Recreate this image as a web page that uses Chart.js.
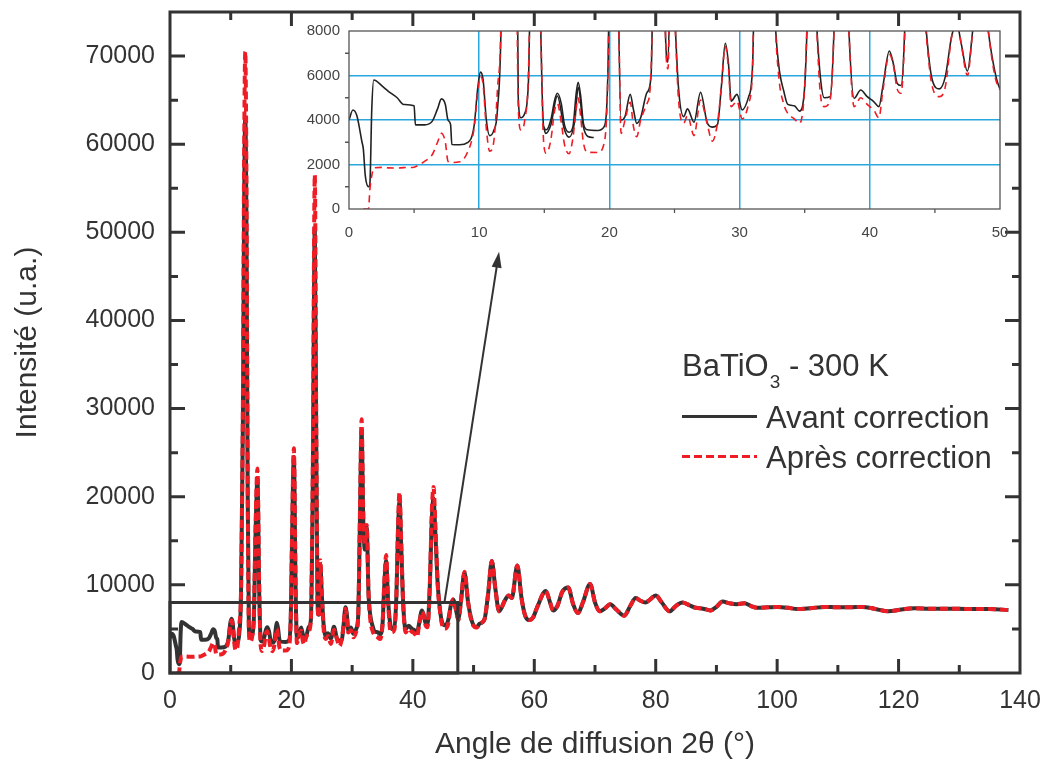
<!DOCTYPE html>
<html>
<head>
<meta charset="utf-8">
<script src="https://cdn.jsdelivr.net/npm/chart.js@4.4.0/dist/chart.umd.min.js"></script>
<style>
  body { margin: 0; background: #fff; }
  #wrap { position: relative; width: 1042px; height: 767px; }
  #mainChart { position: absolute; left: 0; top: 0; }
  #insetChart { position: absolute; left: 280px; top: 15px; }
</style>
</head>
<body>
<div id="wrap">
  <canvas id="mainChart" width="1042" height="767"></canvas>
  <canvas id="insetChart" width="740" height="240"></canvas>
</div>
<script>
// angle de diffusion 2theta (deg)
const angles = [
  0.0, 0.3, 0.6, 1.0, 1.1, 1.25, 1.5, 1.6, 1.75, 1.9,
  2.6, 3.0, 3.7, 4.2, 5.0, 5.1, 5.8, 6.4, 6.8, 7.1,
  7.4, 7.6, 7.8, 7.9, 8.5, 9.1, 9.6, 9.9, 10.1, 10.3,
  10.55, 10.8, 11.1, 11.4, 11.7, 12.0, 12.2, 12.4, 12.6, 12.8,
  13.0, 13.2, 13.5, 13.8, 14.1, 14.4, 14.7, 14.95, 15.15, 15.5,
  15.8, 16.0, 16.3, 16.55, 16.9, 17.2, 17.45, 17.6, 17.8, 18.0,
  18.3, 19.1, 19.6, 19.9, 20.1, 20.4, 20.7, 20.9, 21.2, 21.6,
  21.85, 22.1, 22.4, 22.9, 23.2, 23.5, 23.85, 24.1, 24.3, 24.5,
  24.75, 25.0, 25.3, 25.7, 26.0, 26.5, 27.0, 27.5, 27.9, 28.3,
  28.6, 28.9, 29.15, 29.35, 29.8, 30.2, 30.7, 31.0, 31.3, 31.55,
  31.85, 32.1, 32.4, 32.7, 33.0, 33.4, 33.7, 34.2, 34.6, 35.0,
  35.3, 35.6, 35.9, 36.2, 36.5, 36.95, 37.3, 37.55, 37.8, 38.1,
  38.4, 38.8, 39.3, 39.8, 40.3, 40.7, 41.0, 41.5, 41.8, 42.1,
  42.4, 42.8, 43.1, 43.4, 43.7, 44.1, 44.5, 44.8, 45.35, 45.8,
  46.3, 46.7, 47.0, 47.5, 47.9, 48.5, 49.1, 49.6, 50.0, 50.5,
  51.0, 51.8, 52.4, 53.0, 53.6, 54.2, 55.2, 55.8, 56.3, 57.2,
  57.9, 58.5, 59.1, 59.8, 60.5, 61.9, 62.6, 63.1, 63.8, 64.6,
  65.6, 66.4, 67.2, 68.0, 69.2, 70.0, 70.8, 71.6, 72.5, 73.5,
  74.8, 75.8, 76.7, 77.5, 78.3, 79.0, 80.0, 81.0, 82.3, 83.3,
  84.4, 85.5, 86.6, 87.8, 89.0, 90.0, 91.0, 92.2, 93.3, 94.6,
  95.7, 96.7, 98.5, 100, 101.8, 103.3, 105.5, 107.9, 110, 112,
  114, 116, 118.3, 120.5, 122.6, 125, 127.5, 129.9, 132, 135,
  138.1
];

// Avant correction
const avant = [
  4000, 4450, 4200, 3000, 2700, 1500, 1000, 1100, 4500, 5800,
  5500, 5300, 5000, 4700, 4640, 3780, 3780, 3950, 4500, 4950,
  4700, 4000, 3800, 2900, 2890, 2980, 3700, 5500, 6150, 5800,
  4000, 3300, 3500, 4450, 9000, 28000, 52000, 63000, 50000, 20000,
  5000, 4100, 4300, 6000, 16000, 22000, 9000, 3700, 3560, 4000,
  4900, 5200, 4750, 3780, 3450, 3700, 5200, 5700, 5050, 3860,
  3560, 3530, 3700, 6500, 15000, 24500, 9000, 4000, 4160, 5150,
  4460, 3850, 4100, 5250, 6000, 20000, 50500, 25000, 8000, 6600,
  12300, 9000, 5500, 4150, 4500, 3900, 5250, 3900, 3680, 3800,
  5500, 7450, 6500, 4850, 5150, 4450, 5050, 6500, 18000, 27500,
  17000, 14000, 16500, 9000, 6500, 5280, 4700, 4640, 4400, 5500,
  10000, 12700, 8500, 5950, 5000, 5050, 9000, 16000, 19500, 14000,
  8000, 4980, 5350, 5050, 4830, 4600, 5500, 7100, 6550, 5650,
  5550, 10000, 17000, 19800, 16000, 10000, 7000, 5800, 5400, 5950,
  7800, 8300, 7500, 6200, 8000, 11400, 8000, 6200, 5400, 5200,
  5600, 6100, 9000, 12700, 9500, 7000, 8300, 8800, 8500, 12200,
  8500, 6500, 6000, 6300, 7500, 9300, 8000, 7100, 7600, 9200,
  9700, 7800, 6800, 8000, 10100, 8000, 7000, 7300, 7800, 7200,
  6500, 7600, 8500, 8200, 8000, 8300, 8800, 8000, 7000, 7600,
  8000, 7700, 7400, 7300, 7100, 7500, 8100, 7900, 7800, 7900,
  7600, 7400, 7450, 7500, 7400, 7250, 7350, 7500, 7450, 7450,
  7500, 7300, 7000, 7200, 7350, 7300, 7300, 7300, 7250, 7250,
  7150
];

// Après correction
const apres = [
  null, null, null, null, 0, 0, 0, 850, 1500, 1850,
  1870, 1850, 1840, 1860, 1880, 1900, 2140, 2450, 3000, 3400,
  3000, 2150, 2100, 2090, 2120, 2550, 3600, 5300, 5950, 5600,
  3600, 2600, 2950, 5350, 9500, 30000, 58000, 70500, 55000, 21000,
  4600, 3550, 4000, 6500, 17000, 23200, 9500, 3000, 2500, 3100,
  4450, 4750, 3900, 2900, 2480, 3200, 4500, 5000, 4100, 3000,
  2550, 2540, 2960, 6500, 15500, 25500, 9500, 3400, 4000, 4800,
  3700, 3250, 4000, 4750, 6200, 22000, 56500, 27000, 8000, 6300,
  12800, 9000, 5000, 3850, 4200, 3300, 4900, 3850, 3050, 3860,
  5500, 7300, 6300, 4600, 4850, 4050, 4750, 6500, 19000, 28800,
  17500, 14500, 16800, 9000, 6000, 4700, 4300, 4050, 3850, 5500,
  10400, 13400, 8500, 5200, 4600, 4900, 9000, 16500, 20500, 14500,
  8000, 4600, 5000, 4700, 4450, 4100, 5300, 6950, 6500, 5400,
  5200, 10000, 18000, 21100, 17000, 10000, 6800, 5500, 5050, 5500,
  7800, 8400, 7500, 6000, 8000, 11500, 8000, 6000, 5350, 5150,
  5600, 6100, 9000, 12700, 9500, 7000, 8300, 8800, 8500, 12200,
  8500, 6500, 6000, 6300, 7500, 9300, 8000, 7100, 7600, 9200,
  9700, 7800, 6800, 8000, 10100, 8000, 7000, 7300, 7800, 7200,
  6500, 7600, 8500, 8200, 8000, 8300, 8800, 8000, 7000, 7600,
  8000, 7700, 7400, 7300, 7100, 7500, 8100, 7900, 7800, 7900,
  7600, 7400, 7450, 7500, 7400, 7250, 7350, 7500, 7450, 7450,
  7500, 7300, 7000, 7200, 7350, 7300, 7300, 7300, 7250, 7250,
  7150
];

// second tracé noir visible seulement dans l'encart (15-19 deg)
const anglesBis = [14.95, 15.1, 15.5, 16.0, 16.55, 16.9, 17.35, 17.6, 18.0, 18.35, 18.8];
const avantBis = [3700, 3400, 3780, 5080, 3560, 3230, 4000, 5470, 3700, 3260, 3210];

const seriesLabels = ["Avant correction", "Après correction"];
const sampleTitle = ["BaTiO", "3", " - 300 K"];
const zoomBox = [0, 47.4, 0, 8000];      // region agrandie dans l'encart
const arrowFrom = [45.2, 8000];
const arrowTo = [54.2, 47800];

const FONT = '"Liberation Sans", Arial, Helvetica, sans-serif';
const INK = "#333333";
const RED = "#ee1d25";
const GRID_BLUE = "#29a8e0";

Chart.defaults.font.family = FONT;
Chart.defaults.color = INK;

function toPoints(ys, xs) {
  const src = xs || angles;
  return src.map((a, i) => ({ x: a, y: ys[i] }));
}

// pas de marge ajoutée par les étiquettes : la zone de tracé est fixée par layout.padding
function noPadX(s, h) {
  s.height = h;
  s.paddingLeft = 0;
  s.paddingRight = 0;
}
function noPadY(s, w) {
  s.width = w;
  s.paddingTop = 0;
  s.paddingBottom = 0;
}

// cadre, graduations internes, encadré, flèche et légende du graphique principal
const mainDecor = {
  id: "mainDecor",
  afterDatasetsDraw(chart) {
    const ctx = chart.ctx;
    const a = chart.chartArea;
    const xs = chart.scales.x;
    const ys = chart.scales.y;
    ctx.save();
    ctx.strokeStyle = INK;
    ctx.fillStyle = INK;
    ctx.lineWidth = 3;
    ctx.lineCap = "butt";

    // graduations vers l'intérieur sur les 4 côtés
    ctx.beginPath();
    xs.ticks.forEach((t) => {
      if (t.value <= xs.min || t.value >= xs.max) return;
      const px = xs.getPixelForValue(t.value);
      const len = t.value % 20 === 0 ? 14 : 8;
      ctx.moveTo(px, a.bottom);
      ctx.lineTo(px, a.bottom - len);
      ctx.moveTo(px, a.top);
      ctx.lineTo(px, a.top + len);
    });
    ys.ticks.forEach((t) => {
      if (t.value <= ys.min || t.value >= ys.max) return;
      const py = ys.getPixelForValue(t.value);
      const len = t.value % 10000 === 0 ? 15 : 8;
      ctx.moveTo(a.left, py);
      ctx.lineTo(a.left + len, py);
      ctx.moveTo(a.right, py);
      ctx.lineTo(a.right - len, py);
    });
    ctx.stroke();

    // cadre
    ctx.strokeRect(a.left, a.top, a.right - a.left, a.bottom - a.top);

    // rectangle de la zone agrandie
    const bx0 = xs.getPixelForValue(zoomBox[0]);
    const bx1 = xs.getPixelForValue(zoomBox[1]);
    const by0 = ys.getPixelForValue(zoomBox[2]);
    const by1 = ys.getPixelForValue(zoomBox[3]);
    ctx.strokeRect(bx0, by1, bx1 - bx0, by0 - by1);

    // flèche vers l'encart
    const ax0 = xs.getPixelForValue(arrowFrom[0]);
    const ay0 = ys.getPixelForValue(arrowFrom[1]);
    const ax1 = xs.getPixelForValue(arrowTo[0]);
    const ay1 = ys.getPixelForValue(arrowTo[1]);
    const ang = Math.atan2(ay1 - ay0, ax1 - ax0);
    const headLen = 16, headHalf = 5;
    ctx.lineWidth = 2;
    ctx.beginPath();
    ctx.moveTo(ax0, ay0);
    ctx.lineTo(ax1 - Math.cos(ang) * headLen * 0.8, ay1 - Math.sin(ang) * headLen * 0.8);
    ctx.stroke();
    ctx.beginPath();
    ctx.moveTo(ax1, ay1);
    ctx.lineTo(ax1 - Math.cos(ang) * headLen + Math.sin(ang) * headHalf,
               ay1 - Math.sin(ang) * headLen - Math.cos(ang) * headHalf);
    ctx.lineTo(ax1 - Math.cos(ang) * headLen - Math.sin(ang) * headHalf,
               ay1 - Math.sin(ang) * headLen + Math.cos(ang) * headHalf);
    ctx.closePath();
    ctx.fill();

    // légende
    const lx = a.left + 512;
    const ly = a.top + 364;
    ctx.textBaseline = "alphabetic";
    ctx.textAlign = "left";
    ctx.font = "31px " + FONT;
    ctx.fillText(sampleTitle[0], lx, ly);
    let w = ctx.measureText(sampleTitle[0]).width;
    ctx.font = "19px " + FONT;
    ctx.fillText(sampleTitle[1], lx + w + 1, ly + 12);
    w += ctx.measureText(sampleTitle[1]).width + 1;
    ctx.font = "31px " + FONT;
    ctx.fillText(sampleTitle[2], lx + w, ly);

    const ds = chart.data.datasets;
    const rows = [
      { d: ds[1], y: a.top + 404.5 },
      { d: ds[0], y: a.top + 444.5 }
    ];
    rows.forEach((r) => {
      ctx.save();
      ctx.strokeStyle = r.d.borderColor;
      ctx.lineWidth = 3.2;
      ctx.setLineDash(r.d.borderDash && r.d.borderDash.length ? [8, 4] : []);
      ctx.beginPath();
      ctx.moveTo(lx, r.y);
      ctx.lineTo(lx + 75, r.y);
      ctx.stroke();
      ctx.restore();
      ctx.font = "31px " + FONT;
      ctx.fillStyle = INK;
      ctx.fillText(r.d.label, lx + 84, r.y + 11);
    });
    ctx.restore();
  }
};

new Chart(document.getElementById("mainChart"), {
  type: "line",
  data: {
    datasets: [
      {
        label: seriesLabels[1],
        data: toPoints(apres),
        borderColor: RED,
        borderWidth: 4,
        borderDash: [8, 4],
        pointRadius: 0,
        cubicInterpolationMode: "monotone",
        spanGaps: false,
        order: 0
      },
      {
        label: seriesLabels[0],
        data: toPoints(avant),
        borderColor: INK,
        borderWidth: 4,
        pointRadius: 0,
        cubicInterpolationMode: "monotone",
        order: 1
      }
    ]
  },
  options: {
    responsive: false,
    animation: false,
    devicePixelRatio: 1,
    parsing: false,
    layout: { padding: { left: 0, right: 22, top: 12, bottom: 0 } },
    plugins: { legend: { display: false }, tooltip: { enabled: false } },
    scales: {
      x: {
        type: "linear",
        min: 0,
        max: 140,
        grid: { display: false, drawTicks: false },
        border: { display: false },
        ticks: {
          stepSize: 10,
          padding: 13,
          maxRotation: 0,
          font: { size: 25 },
          color: INK,
          callback: (v) => (v % 20 === 0 ? String(v) : "")
        },
        title: {
          display: true,
          text: "Angle de diffusion 2θ (°)",
          font: { size: 30 },
          color: INK,
          padding: { top: 0, bottom: 4 }
        },
        afterFit: (s) => noPadX(s, 94)
      },
      y: {
        min: 0,
        max: 75000,
        grid: { display: false, drawTicks: false },
        border: { display: false },
        ticks: {
          stepSize: 5000,
          padding: 15,
          font: { size: 25 },
          color: INK,
          callback: (v) => (v % 10000 === 0 ? String(v) : "")
        },
        title: {
          display: true,
          text: "Intensité (u.a.)",
          font: { size: 30 },
          color: INK,
          padding: { top: 10, bottom: 0 }
        },
        afterFit: (s) => noPadY(s, 170)
      }
    }
  },
  plugins: [mainDecor]
});

// cadre et petites graduations de l'encart
const insetDecor = {
  id: "insetDecor",
  afterDatasetsDraw(chart) {
    const ctx = chart.ctx;
    const a = chart.chartArea;
    const xs = chart.scales.x;
    const ys = chart.scales.y;
    ctx.save();
    ctx.strokeStyle = "#555";
    ctx.lineWidth = 1.3;
    ctx.strokeRect(a.left, a.top, a.right - a.left, a.bottom - a.top);
    ctx.beginPath();
    for (let v = 5; v < 50; v += 10) {
      const px = xs.getPixelForValue(v);
      ctx.moveTo(px, a.bottom);
      ctx.lineTo(px, a.bottom + 4);
    }
    for (let v = 1000; v < 8000; v += 2000) {
      const py = ys.getPixelForValue(v);
      ctx.moveTo(a.left, py);
      ctx.lineTo(a.left - 4, py);
    }
    ctx.stroke();
    ctx.restore();
  }
};

const blueGrid = (c) =>
  c.tick && (c.tick.value === c.scale.min || c.tick.value === c.scale.max)
    ? "rgba(0,0,0,0)"
    : GRID_BLUE;

new Chart(document.getElementById("insetChart"), {
  type: "line",
  data: {
    datasets: [
      {
        label: seriesLabels[1],
        data: toPoints(apres),
        borderColor: RED,
        borderWidth: 1.6,
        borderDash: [7, 5],
        pointRadius: 0,
        cubicInterpolationMode: "monotone",
        order: 0
      },
      {
        label: seriesLabels[0],
        data: toPoints(avant),
        borderColor: "#222",
        borderWidth: 1.6,
        pointRadius: 0,
        cubicInterpolationMode: "monotone",
        order: 1
      },
      {
        label: seriesLabels[0] + " (bis)",
        data: toPoints(avantBis, anglesBis),
        borderColor: "#222",
        borderWidth: 1.6,
        pointRadius: 0,
        cubicInterpolationMode: "monotone",
        order: 2
      }
    ]
  },
  options: {
    responsive: false,
    animation: false,
    devicePixelRatio: 1,
    parsing: false,
    layout: { padding: { left: 0, right: 20, top: 16, bottom: 0 } },
    plugins: { legend: { display: false }, tooltip: { enabled: false } },
    scales: {
      x: {
        type: "linear",
        min: 0,
        max: 50,
        grid: { color: blueGrid, lineWidth: 1.5, drawTicks: false },
        border: { display: false },
        ticks: {
          stepSize: 10, padding: 15, maxRotation: 0,
          font: { size: 15 }, color: "#444",
          callback: (v) => String(v)
        },
        afterFit: (s) => noPadX(s, 46)
      },
      y: {
        min: 0,
        max: 8000,
        grid: { color: blueGrid, lineWidth: 1.5, drawTicks: false },
        border: { display: false },
        ticks: {
          stepSize: 2000, padding: 9,
          font: { size: 15 }, color: "#444",
          callback: (v) => String(v)
        },
        afterFit: (s) => noPadY(s, 69)
      }
    }
  },
  plugins: [insetDecor]
});
</script>
</body>
</html>
